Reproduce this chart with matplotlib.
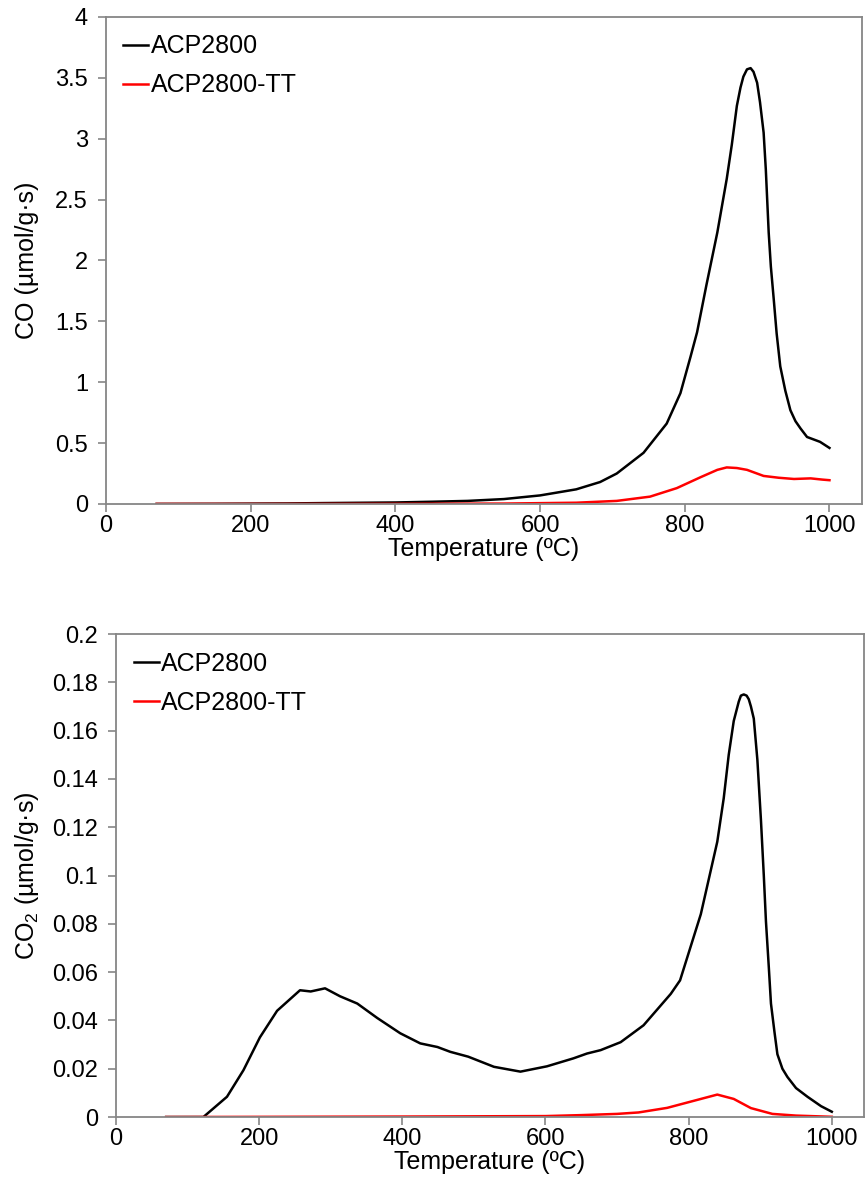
import matplotlib
matplotlib.use('Agg')
import matplotlib.pyplot as plt

plt.rcParams['font.family'] = ['Liberation Sans', 'DejaVu Sans']
plt.rcParams['mathtext.fontset'] = 'custom'
plt.rcParams['mathtext.rm'] = 'Liberation Sans'
plt.rcParams['mathtext.default'] = 'rm'

# CO (top panel)
t_co_acp = [70, 150, 250, 300, 400, 450, 500, 550, 600, 650, 683, 706, 743, 775,
            794, 808, 817, 830, 845, 858, 865, 872, 877, 881, 886, 891, 895, 900,
            904, 909, 912, 916, 919, 923, 927, 932, 939, 946, 953, 960, 969, 987, 1000]
co_acp = [0, 0.001, 0.004, 0.007, 0.012, 0.018, 0.025, 0.04, 0.07, 0.12, 0.18, 0.25,
          0.42, 0.66, 0.91, 1.21, 1.41, 1.8, 2.23, 2.67, 2.95, 3.27, 3.42, 3.51, 3.57,
          3.58, 3.55, 3.46, 3.3, 3.05, 2.75, 2.23, 1.95, 1.68, 1.4, 1.13, 0.93, 0.77,
          0.68, 0.62, 0.55, 0.51, 0.46]

t_co_tt = [70, 200, 400, 550, 650, 706, 752, 789, 822, 845, 858, 872, 886, 909,
           930, 951, 974, 990, 1000]
co_tt = [0, 0, 0.001, 0.003, 0.01, 0.025, 0.06, 0.13, 0.22, 0.28, 0.30, 0.295, 0.28,
         0.23, 0.215, 0.205, 0.21, 0.2, 0.195]

# CO2 (bottom panel)
t_co2_acp = [70, 100, 122, 155, 178, 201, 225, 257, 272, 292, 313, 337, 365, 397,
             425, 449, 467, 492, 528, 565, 602, 639, 658, 677, 705, 737, 775, 788,
             817, 840, 849, 856, 863, 870, 873, 877, 881, 884, 887, 891, 896, 901,
             905, 908, 912, 915, 920, 924, 931, 938, 950, 966, 985, 1000]
co2_acp = [0, 0, 0, 0.0084, 0.0194, 0.033, 0.044, 0.0525, 0.052, 0.0533, 0.050,
           0.047, 0.041, 0.0347, 0.0305, 0.029, 0.027, 0.025, 0.0208, 0.0188, 0.021,
           0.0243, 0.0263, 0.0277, 0.031, 0.038, 0.051, 0.0566, 0.084, 0.114, 0.132,
           0.15, 0.164, 0.172, 0.1745, 0.175, 0.1745, 0.173, 0.17, 0.165, 0.148,
           0.123, 0.1, 0.081, 0.062, 0.047, 0.035, 0.026, 0.02, 0.0166, 0.012,
           0.0084, 0.0045, 0.0022]

t_co2_tt = [70, 400, 600, 650, 700, 730, 770, 812, 840, 863, 887, 917, 950, 1000]
co2_tt = [0, 0.0002, 0.0004, 0.0008, 0.0013, 0.0019, 0.0038, 0.0071, 0.0093, 0.0075,
          0.0037, 0.0013, 0.0006, 0.0001]

fig = plt.figure(figsize=(8.66, 11.97), dpi=100)
ax1 = fig.add_axes([0.1224, 0.579, 0.873, 0.4068])
ax2 = fig.add_axes([0.134, 0.0668, 0.8637, 0.4035])

fs = 18
for ax in (ax1, ax2):
    for s in ax.spines.values():
        s.set_color('#868686')
        s.set_linewidth(1.3)
    ax.tick_params(direction='out', length=6, width=1.2, color='#868686',
                   labelsize=17, labelcolor='black')
    ax.tick_params(axis='x', pad=2)
    ax.tick_params(axis='y', pad=7)
    ax.set_xlim(0, 1045)
    ax.set_xticks([0, 200, 400, 600, 800, 1000])
    ax.set_xlabel('Temperature (ºC)', fontsize=fs, labelpad=0)

ax1.plot(t_co_acp, co_acp, color='black', lw=1.8, label='ACP2800')
ax1.plot(t_co_tt, co_tt, color='red', lw=1.8, label='ACP2800-TT')
ax1.set_ylim(0, 4)
ax1.set_yticks([0, 0.5, 1, 1.5, 2, 2.5, 3, 3.5, 4])
ax1.set_yticklabels(['0', '0.5', '1', '1.5', '2', '2.5', '3', '3.5', '4'])
ax1.set_ylabel('CO (µmol/g·s)', fontsize=fs, labelpad=12)

ax2.plot(t_co2_acp, co2_acp, color='black', lw=1.8, label='ACP2800')
ax2.plot(t_co2_tt, co2_tt, color='red', lw=1.8, label='ACP2800-TT')
ax2.set_ylim(0, 0.2)
yt = [0, 0.02, 0.04, 0.06, 0.08, 0.1, 0.12, 0.14, 0.16, 0.18, 0.2]
ax2.set_yticks(yt)
ax2.set_yticklabels(['0'] + [('%g' % v) for v in yt[1:]])
ax2.set_ylabel('CO$_2$ (µmol/g·s)', fontsize=fs, labelpad=8)

for ax in (ax1, ax2):
    ax.legend(loc='upper left', frameon=False, fontsize=fs, handlelength=1.0,
              handletextpad=0.1, borderaxespad=0.3, labelspacing=0.6,
              borderpad=0.4)

fig.savefig('out.png', dpi=100)
